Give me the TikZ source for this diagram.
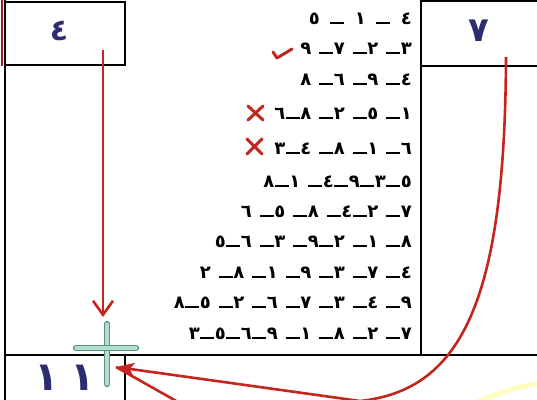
\documentclass[tikz,border=0pt]{standalone}
\usepackage{fontspec}
\newfontfamily\arfont{DejaVu Sans}
\usetikzlibrary{arrows.meta}
\definecolor{rd}{HTML}{C4261E}
\definecolor{nv}{HTML}{2C2C70}
\definecolor{pgo}{HTML}{5B8F86}
\definecolor{pgi}{HTML}{B4E0D0}
\newcommand\dsh{\kern0.5pt\rule{14pt}{2.2pt}\kern0.5pt}
\newcommand\rowfont{\arfont\bfseries\fontsize{18}{18}\selectfont\spaceskip 7.5pt\relax}
\newcommand\bigfont[1]{\arfont\bfseries\fontsize{#1}{#1}\selectfont}
\begin{document}
\begin{tikzpicture}[x=1pt,y=-1pt,
  box/.style={draw=black,line width=1.6pt},
  rowtxt/.style={anchor=base east,inner sep=0pt,font=\rowfont},
  biglab/.style={inner sep=0pt,text=nv,font={\bigfont{#1}}},
  redarrow/.style={draw=rd,line width=2.6pt},
  redmark/.style={draw=rd,line width=3pt,line cap=round,line join=round},
  plusbar/.style={draw=pgo,double=pgi,double distance=3.4pt,line width=1.5pt,line cap=round}]
\useasboundingbox (0,0) rectangle (537,399);
\clip (0,0) rectangle (537,399);
\fill[white] (0,0) rectangle (537,399);
% faint highlight
\draw[yellow!25,line width=5pt] (470,405) .. controls (500,392) and (520,386) .. (545,382);
% frame lines
\draw[box] (5,2) rectangle (125,65);
\draw[box] (421,1) rectangle (545,66);
\draw[box] (5,0) -- (5,405);
\draw[box] (421,0) -- (421,355);
\draw[box] (5,355) -- (545,355);
\draw[box] (125,355) -- (125,405);
\draw[rd!80!black,line width=2pt] (1.5,0) -- (1.5,66);
% big labels
\node[biglab=30] (l4) at (59,31) {٤};
\node[biglab=34] (l7) at (479,31) {٧};
\node[biglab=40,anchor=base,text depth=0pt] (l11) at (65,390) {١\hspace{12pt}١};
% rows
\node[rowtxt] (r1) at (412,24) {٥\hspace{10pt}\dsh\hspace{10pt}١\hspace{10pt}\dsh\hspace{10pt}٤};
\node[rowtxt] (r2) at (412,54) {٩ \dsh{}٧ \dsh{}٢ \dsh{}٣};
\node[rowtxt] (r3) at (412,85) {٨ \dsh{}٦ \dsh{}٩ \dsh{}٤};
\node[rowtxt] (r4) at (412,119) {٦\dsh{}٨ \dsh{}٢ \dsh{}٥ \dsh{}١};
\node[rowtxt] (r5) at (412,154) {٣\dsh{}٤ \dsh{}٨ \dsh{}١ \dsh{}٦};
\node[rowtxt] (r6) at (412,187) {٨\dsh{}١ \dsh{}٤\dsh{}٩\dsh{}٣\dsh{}٥};
\node[rowtxt] (r7) at (412,217) {٦ \dsh{}٥ \dsh{}٨ \dsh{}٤\dsh{}٢ \dsh{}٧};
\node[rowtxt] (r8) at (412,247) {٥\dsh{}٦ \dsh{}٣ \dsh{}٩\dsh{}٢ \dsh{}١ \dsh{}٨};
\node[rowtxt] (r9) at (412,278) {٢ \dsh{}٨ \dsh{}١ \dsh{}٩ \dsh{}٣ \dsh{}٧ \dsh{}٤};
\node[rowtxt] (r10) at (412,308) {٨\dsh{}٥ \dsh{}٢ \dsh{}٦ \dsh{}٧ \dsh{}٣ \dsh{}٤ \dsh{}٩};
\node[rowtxt] (r11) at (412,339) {٣\dsh{}٥\dsh{}٦\dsh{}٩ \dsh{}١ \dsh{}٨ \dsh{}٢ \dsh{}٧};
% marks
\draw[redmark] (273,52) -- (277,58) -- (292,49);
\draw[redmark] (248,106) -- (263,120) (248,120) -- (263,106);
\draw[redmark] (247,139) -- (262,154) (247,154) -- (262,139);
% plus sign
\draw[plusbar] (107,324) -- (107,384);
\draw[plusbar] (76,348) -- (136,348);
% arrows
\coordinate (a1s) at (103,50);
\coordinate (a1e) at (103,317);
\draw[redarrow,-{Straight Barb[length=14pt,width=20pt]}] (a1s) -- (a1e);
\coordinate (a2s) at (506,57);
\coordinate (a2m) at (360,401);
\coordinate (a2e) at (116,367);
\coordinate (a2b) at (178,402);
\draw[redarrow] (a2s) .. controls (505,300) and (462,390) .. (a2m);
\draw[redarrow,-{Stealth[length=18pt,width=13pt,inset=4pt]}] (a2m) -- (a2e);
\draw[redarrow] (a2b) -- (a2e);
\end{tikzpicture}
\end{document}
